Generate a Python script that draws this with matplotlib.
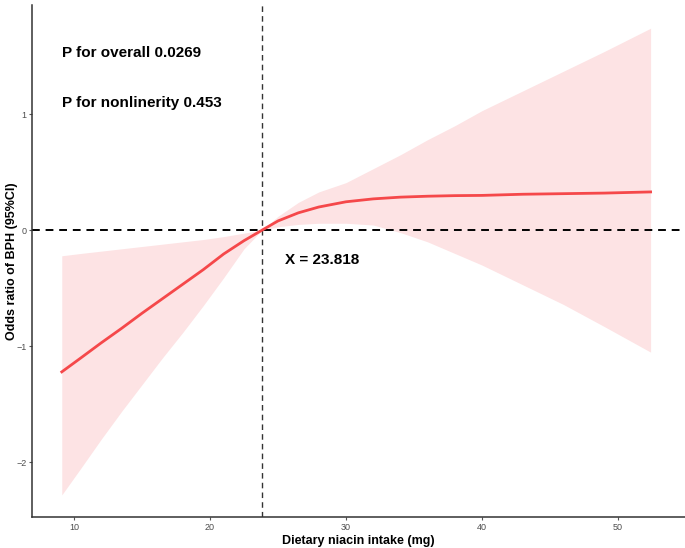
import matplotlib
matplotlib.use("Agg")
import matplotlib.pyplot as plt

plt.rcParams['font.family'] = ['Liberation Sans', 'DejaVu Sans']

# Data
niacin = [9.1, 10.5, 12, 13.5, 15, 16.5, 18, 19.5, 21, 22.5, 23.818, 25, 26.5,
          28, 30, 32, 34, 36, 38, 40, 43, 46, 49, 52.4]
log_or = [-1.22, -1.10, -0.97, -0.845, -0.715, -0.59, -0.465, -0.34, -0.205, -0.09, 0.0,
          0.08, 0.15, 0.20, 0.245, 0.27, 0.285, 0.293, 0.298, 0.30, 0.31, 0.315, 0.32, 0.33]
ci_upper = [-0.22, -0.20, -0.18, -0.16, -0.14, -0.12, -0.10, -0.08, -0.055, -0.025, 0.0,
            0.12, 0.24, 0.33, 0.41, 0.53, 0.65, 0.78, 0.90, 1.03, 1.20, 1.37, 1.54, 1.74]
ci_lower = [-2.28, -2.05, -1.80, -1.56, -1.33, -1.10, -0.88, -0.65, -0.41, -0.16, 0.0,
            0.03, 0.05, 0.06, 0.06, 0.045, -0.02, -0.10, -0.20, -0.30, -0.47, -0.64, -0.83, -1.05]
cutoff = 23.818
x_ticks = [10, 20, 30, 40, 50]
y_ticks = [-2, -1, 0, 1]

W, H = 685, 548
fig = plt.figure(figsize=(W / 100, H / 100), dpi=100)
ax = fig.add_axes([32 / W, 31 / H, 1 - 32 / W, 512 / H])

ax.fill_between(niacin, ci_lower, ci_upper, color='#FDE3E4', lw=0, zorder=1)
ax.plot(niacin, log_or, color='#F5484A', lw=2.0, zorder=3)
ax.axhline(0, color='black', ls=(0, (4, 3)), lw=1.4, zorder=2)
ax.axvline(cutoff, color='#333333', ls=(0, (4, 3)), lw=1.0, zorder=2)

ax.set_xlim(6.91, 54.93)
ax.set_ylim(-2.47, 1.94)
ax.set_xticks(x_ticks)
ax.set_yticks(y_ticks)
ax.tick_params(axis='both', colors='#555555', labelcolor='#4d4d4d', labelsize=6.5,
               length=2.5, width=0.8, pad=1.5)
for s in ['top', 'right']:
    ax.spines[s].set_visible(False)
for s in ['left', 'bottom']:
    ax.spines[s].set_color('#333333')
    ax.spines[s].set_linewidth(1.1)

fig.text(358 / W, 1 - 541 / H, 'Dietary niacin intake (mg)', fontsize=9,
         fontweight='bold', ha='center', va='center')
fig.text(12 / W, 1 - 261 / H, 'Odds ratio of BPH (95%CI)', fontsize=9,
         fontweight='bold', ha='center', va='center', rotation=90)

ax.text(9.1, 1.53, 'P for overall 0.0269', fontsize=11, fontweight='bold', va='center')
ax.text(9.1, 1.10, 'P for nonlinerity 0.453', fontsize=11, fontweight='bold', va='center')
ax.text(cutoff + 1.7, -0.26, 'X = 23.818', fontsize=11, fontweight='bold', va='center')

fig.savefig('out.png', dpi=100)
